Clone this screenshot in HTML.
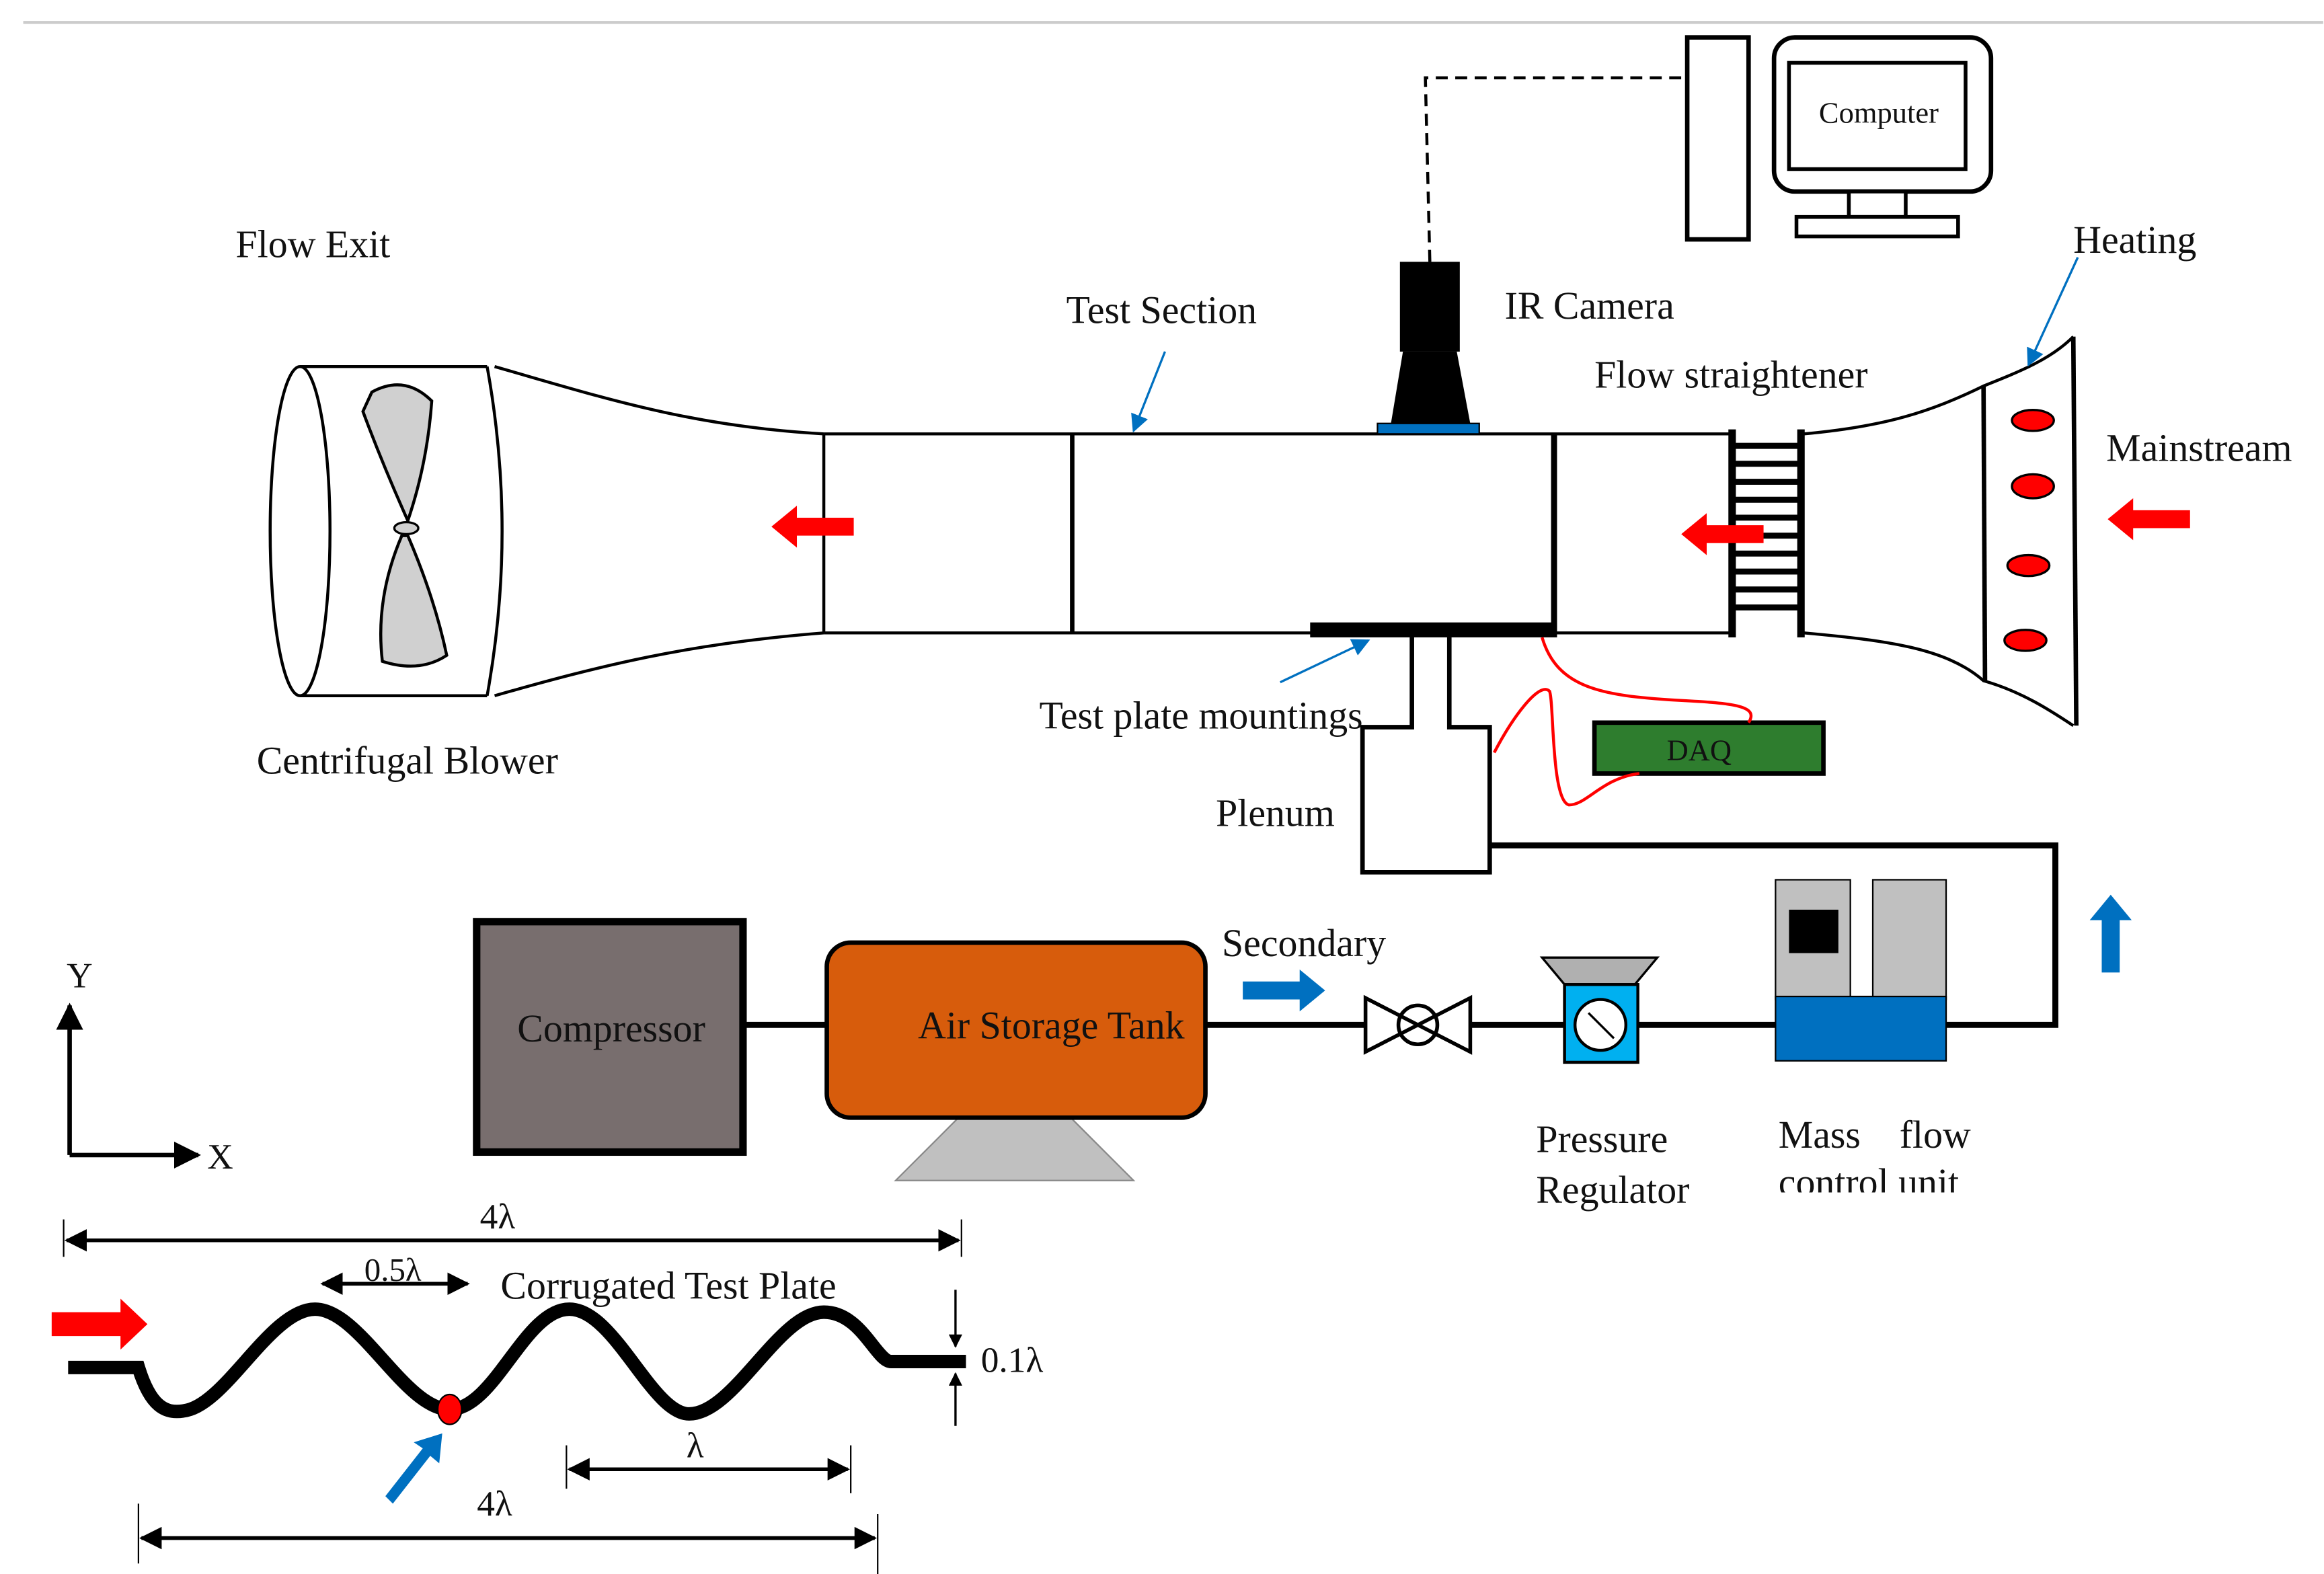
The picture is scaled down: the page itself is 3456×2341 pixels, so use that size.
<!DOCTYPE html>
<html><head><meta charset="utf-8"><style>
html,body{margin:0;padding:0;background:#fff;}
svg{display:block;}
text{font-family:"Liberation Serif",serif;fill:#111;}
</style></head><body>
<svg width="3456" height="2341" viewBox="0 0 1552 1052" xmlns="http://www.w3.org/2000/svg">
<defs>
<marker id="ab" viewBox="0 0 10 10" refX="9" refY="5" markerWidth="8" markerHeight="8" orient="auto-start-reverse"><path d="M0,0 L10,5 L0,10 z" fill="#0070c0"/></marker>
<marker id="ak" viewBox="0 0 10 10" refX="9" refY="5" markerWidth="6" markerHeight="6" orient="auto-start-reverse"><path d="M0,0 L10,5 L0,10 z" fill="#000"/></marker>
</defs>
<line x1="15" y1="15" x2="1552" y2="15" stroke="#ccc" stroke-width="2"/>

<!-- Blower -->
<ellipse cx="200" cy="355" rx="20" ry="110" fill="#fff" stroke="#000" stroke-width="2"/>
<line x1="200" y1="245" x2="325" y2="245" stroke="#000" stroke-width="2"/>
<line x1="200" y1="465" x2="325" y2="465" stroke="#000" stroke-width="2"/>
<path d="M325,245 Q345,355 325,465" fill="none" stroke="#000" stroke-width="2"/>
<path d="M248,262 Q270,250 288,268 Q285,310 272,348 Q255,310 242,275 Z" fill="#d0d0d0" stroke="#000" stroke-width="2"/>
<path d="M272,358 Q290,400 298,438 Q280,450 255,442 Q250,400 268,358 Z" fill="#d0d0d0" stroke="#000" stroke-width="2"/>
<ellipse cx="271" cy="353" rx="8" ry="4" fill="#d0d0d0" stroke="#000" stroke-width="1.5"/>
<!-- Diffuser -->
<path d="M330,245 C400,265 460,285 550,290" fill="none" stroke="#000" stroke-width="2"/>
<path d="M330,465 C400,445 460,430 550,423" fill="none" stroke="#000" stroke-width="2"/>
<!-- Duct -->
<line x1="550" y1="290" x2="1155" y2="290" stroke="#000" stroke-width="2"/>
<line x1="550" y1="423" x2="1155" y2="423" stroke="#000" stroke-width="2"/>
<line x1="550" y1="290" x2="550" y2="423" stroke="#000" stroke-width="2"/>
<line x1="716" y1="290" x2="716" y2="423" stroke="#000" stroke-width="3"/>
<line x1="1038" y1="290" x2="1038" y2="423" stroke="#000" stroke-width="4"/>
<!-- Flow straightener -->
<line x1="1157" y1="287" x2="1157" y2="426" stroke="#000" stroke-width="5"/>
<line x1="1203" y1="287" x2="1203" y2="426" stroke="#000" stroke-width="5"/>
<g stroke="#000" stroke-width="4">
<line x1="1157" y1="298" x2="1203" y2="298"/><line x1="1157" y1="310" x2="1203" y2="310"/><line x1="1157" y1="322" x2="1203" y2="322"/><line x1="1157" y1="334" x2="1203" y2="334"/><line x1="1157" y1="346" x2="1203" y2="346"/><line x1="1157" y1="358" x2="1203" y2="358"/><line x1="1157" y1="370" x2="1203" y2="370"/><line x1="1157" y1="382" x2="1203" y2="382"/><line x1="1157" y1="394" x2="1203" y2="394"/><line x1="1157" y1="406" x2="1203" y2="406"/></g>
<!-- contraction -->
<path d="M1205,290 C1260,285 1290,275 1325,258 C1350,248 1370,240 1385,225" fill="none" stroke="#000" stroke-width="2"/>
<path d="M1205,423 C1260,428 1300,433 1325,455 C1350,462 1370,475 1385,485" fill="none" stroke="#000" stroke-width="2"/>
<line x1="1325" y1="258" x2="1326" y2="455" stroke="#000" stroke-width="3"/>
<line x1="1385" y1="225" x2="1387" y2="485" stroke="#000" stroke-width="3"/>
<g fill="#f00" stroke="#000" stroke-width="1.5">
<ellipse cx="1358" cy="281" rx="14" ry="7"/><ellipse cx="1358" cy="325" rx="14" ry="8"/><ellipse cx="1355" cy="378" rx="14" ry="7"/><ellipse cx="1353" cy="428" rx="14" ry="7"/></g>
<!-- red arrows -->
<path d="M570,346 L532,346 L532,338 L515,352 L532,366 L532,358 L570,358 Z" fill="#f00"/>
<path d="M1178,351 L1140,351 L1140,343 L1123,357 L1140,371 L1140,363 L1178,363 Z" fill="#f00"/>
<path d="M1463,341 L1425,341 L1425,333 L1408,347 L1425,361 L1425,353 L1463,353 Z" fill="#f00"/>
<!-- IR camera -->
<rect x="935" y="175" width="40" height="60" fill="#000"/>
<path d="M937,235 L973,235 L982,283 L929,283 Z" fill="#000"/>
<rect x="920" y="283" width="68" height="7" fill="#0070c0" stroke="#000" stroke-width="1"/>
<path d="M955,175 L952,52 L1125,52" fill="none" stroke="#000" stroke-width="2" stroke-dasharray="8,5"/>
<!-- computer -->
<rect x="1127" y="25" width="41" height="135" fill="#fff" stroke="#000" stroke-width="3"/>
<rect x="1185" y="25" width="145" height="103" rx="14" fill="#fff" stroke="#000" stroke-width="3"/>
<rect x="1195" y="42" width="118" height="71" fill="#fff" stroke="#000" stroke-width="2.5"/>
<rect x="1235" y="128" width="38" height="17" fill="#fff" stroke="#000" stroke-width="2.5"/>
<rect x="1200" y="145" width="108" height="13" fill="#fff" stroke="#000" stroke-width="2.5"/>
<text x="1255" y="82" font-size="20" text-anchor="middle">Computer</text>
<!-- test plate -->
<rect x="875" y="416" width="165" height="10" fill="#000"/>
<path d="M943,426 L943,486 L910,486 L910,583 L995,583 L995,486 L968,486 L968,426" fill="#fff" stroke="#000" stroke-width="3"/>
<!-- DAQ -->
<rect x="1065" y="483" width="153" height="34" fill="#2e7d2e" stroke="#000" stroke-width="3"/>
<text x="1135" y="508" font-size="20" text-anchor="middle">DAQ</text>
<path d="M1030,426 C1040,460 1070,465 1120,468 C1160,470 1175,472 1168,483" fill="none" stroke="#f00" stroke-width="2"/>
<path d="M998,503 C1010,480 1028,455 1035,462 C1038,470 1036,535 1048,538 C1060,538 1070,520 1095,517" fill="none" stroke="#f00" stroke-width="2"/>
<!-- pipe -->
<path d="M995,565 L1373,565 L1373,685 L1300,685" fill="none" stroke="#000" stroke-width="4"/>
<!-- compressor -->
<rect x="318" y="616" width="178" height="154" fill="#786e6e" stroke="#000" stroke-width="5"/>
<text x="408" y="696" font-size="26" text-anchor="middle">Compressor</text>
<line x1="496" y1="685" x2="552" y2="685" stroke="#000" stroke-width="4"/>
<!-- tank -->
<path d="M640,747 L715,747 L757,789 L598,789 Z" fill="#c0c0c0" stroke="#888" stroke-width="1"/>
<rect x="552" y="630" width="253" height="117" rx="16" fill="#d75c0c" stroke="#000" stroke-width="3"/>
<text x="702" y="694" font-size="26" text-anchor="middle">Air Storage Tank</text>
<line x1="805" y1="685" x2="912" y2="685" stroke="#000" stroke-width="4"/>
<!-- valve -->
<path d="M912,667 L982,703 L982,667 L912,703 Z" fill="#fff" stroke="#000" stroke-width="2.5"/>
<circle cx="947" cy="685" r="13" fill="none" stroke="#000" stroke-width="2.5"/>
<line x1="982" y1="685" x2="1045" y2="685" stroke="#000" stroke-width="4"/>
<!-- regulator -->
<path d="M1030,640 L1107,640 L1092,658 L1045,658 Z" fill="#b0b0b0" stroke="#000" stroke-width="1.5"/>
<rect x="1045" y="658" width="49" height="52" fill="#00b0f0" stroke="#000" stroke-width="2"/>
<circle cx="1069" cy="685" r="17" fill="#fff" stroke="#000" stroke-width="2"/>
<line x1="1061" y1="677" x2="1078" y2="694" stroke="#000" stroke-width="1.5"/>
<line x1="1094" y1="685" x2="1186" y2="685" stroke="#000" stroke-width="4"/>
<!-- mass flow -->
<rect x="1186" y="588" width="50" height="80" fill="#c0c0c0" stroke="#000" stroke-width="1"/>
<rect x="1251" y="588" width="49" height="80" fill="#c0c0c0" stroke="#000" stroke-width="1"/>
<rect x="1195" y="608" width="33" height="29" fill="#000"/>
<rect x="1186" y="666" width="114" height="43" fill="#0070c0" stroke="#000" stroke-width="1"/>
<!-- blue arrows -->
<path d="M830,656 L868,656 L868,648 L885,662 L868,676 L868,668 L830,668 Z" fill="#0070c0"/>
<path d="M1404,650 L1404,615 L1396,615 L1410,598 L1424,615 L1416,615 L1416,650 Z" fill="#0070c0"/>
<!-- annotations -->
<line x1="778" y1="235" x2="757" y2="288" stroke="#0070c0" stroke-width="1.5" marker-end="url(#ab)"/>
<line x1="1388" y1="172" x2="1355" y2="244" stroke="#0070c0" stroke-width="1.5" marker-end="url(#ab)"/>
<line x1="855" y1="456" x2="914" y2="428" stroke="#0070c0" stroke-width="1.5" marker-end="url(#ab)"/>
<!-- labels -->
<g font-size="26">
<text x="157" y="172">Flow Exit</text>
<text x="171" y="517">Centrifugal Blower</text>
<text x="712" y="216">Test Section</text>
<text x="1005" y="213">IR Camera</text>
<text x="1065" y="259">Flow straightener</text>
<text x="1385" y="169">Heating</text>
<text x="1407" y="308">Mainstream</text>
<text x="694" y="487">Test plate mountings</text>
<text x="812" y="552">Plenum</text>
<text x="816" y="639">Secondary</text>
<text x="1026" y="770">Pressure</text>
<text x="1026" y="804">Regulator</text>
<text x="1188" y="767">Mass&#160;&#160;&#160;&#160;flow</text>
</g>
<svg x="1180" y="770" width="160" height="27" overflow="hidden"><text x="8" y="29" font-size="26">control unit</text></svg>
<!-- axes -->
<line x1="46" y1="772" x2="46" y2="672" stroke="#000" stroke-width="3" marker-end="url(#ak)"/>
<line x1="46" y1="772" x2="132" y2="772" stroke="#000" stroke-width="3" marker-end="url(#ak)"/>
<text x="44" y="660" font-size="24">Y</text>
<text x="138" y="781" font-size="24">X</text>
<!-- corrugated plate dims -->
<line x1="42" y1="815" x2="42" y2="840" stroke="#000" stroke-width="1"/>
<line x1="642" y1="815" x2="642" y2="840" stroke="#000" stroke-width="1"/>
<line x1="44" y1="829" x2="640" y2="829" stroke="#000" stroke-width="2.5" marker-start="url(#ak)" marker-end="url(#ak)"/>
<text x="332" y="821" font-size="24" text-anchor="middle">4λ</text>
<line x1="215" y1="858" x2="312" y2="858" stroke="#000" stroke-width="2.5" marker-start="url(#ak)" marker-end="url(#ak)"/>
<text x="262" y="856" font-size="22" text-anchor="middle">0.5λ</text>
<text x="334" y="868" font-size="26">Corrugated Test Plate</text>
<path d="M34,877 L80,877 L80,868 L98,885 L80,902 L80,893 L34,893 Z" fill="#f00"/>
<path d="M45,914 L92,914 C100,940 110,945 122,943 C150,940 180,875 210,875 C240,875 270,942 300,942 C330,942 350,875 380,875 C410,875 435,945 460,945 C490,945 520,877 550,877 C575,877 585,910 595,910 L645,910" fill="none" stroke="#000" stroke-width="9"/>
<ellipse cx="300" cy="942" rx="8" ry="10" fill="#f00" stroke="#000" stroke-width="1"/>
<path d="M257,1000 L282,968 L276,964 L295,958 L293,978 L287,973 L262,1005 Z" fill="#0070c0"/>
<line x1="638" y1="862" x2="638" y2="900" stroke="#000" stroke-width="1.5" marker-end="url(#ak)"/>
<line x1="638" y1="953" x2="638" y2="918" stroke="#000" stroke-width="1.5" marker-end="url(#ak)"/>
<text x="655" y="917" font-size="24">0.1λ</text>
<line x1="378" y1="966" x2="378" y2="995" stroke="#000" stroke-width="1"/>
<line x1="568" y1="966" x2="568" y2="998" stroke="#000" stroke-width="1"/>
<line x1="380" y1="982" x2="566" y2="982" stroke="#000" stroke-width="2.5" marker-start="url(#ak)" marker-end="url(#ak)"/>
<text x="464" y="974" font-size="24" text-anchor="middle">λ</text>
<line x1="92" y1="1005" x2="92" y2="1045" stroke="#000" stroke-width="1"/>
<line x1="586" y1="1012" x2="586" y2="1052" stroke="#000" stroke-width="1"/>
<line x1="94" y1="1028" x2="584" y2="1028" stroke="#000" stroke-width="2.5" marker-start="url(#ak)" marker-end="url(#ak)"/>
<text x="330" y="1013" font-size="24" text-anchor="middle">4λ</text>
</svg>
</body></html>
